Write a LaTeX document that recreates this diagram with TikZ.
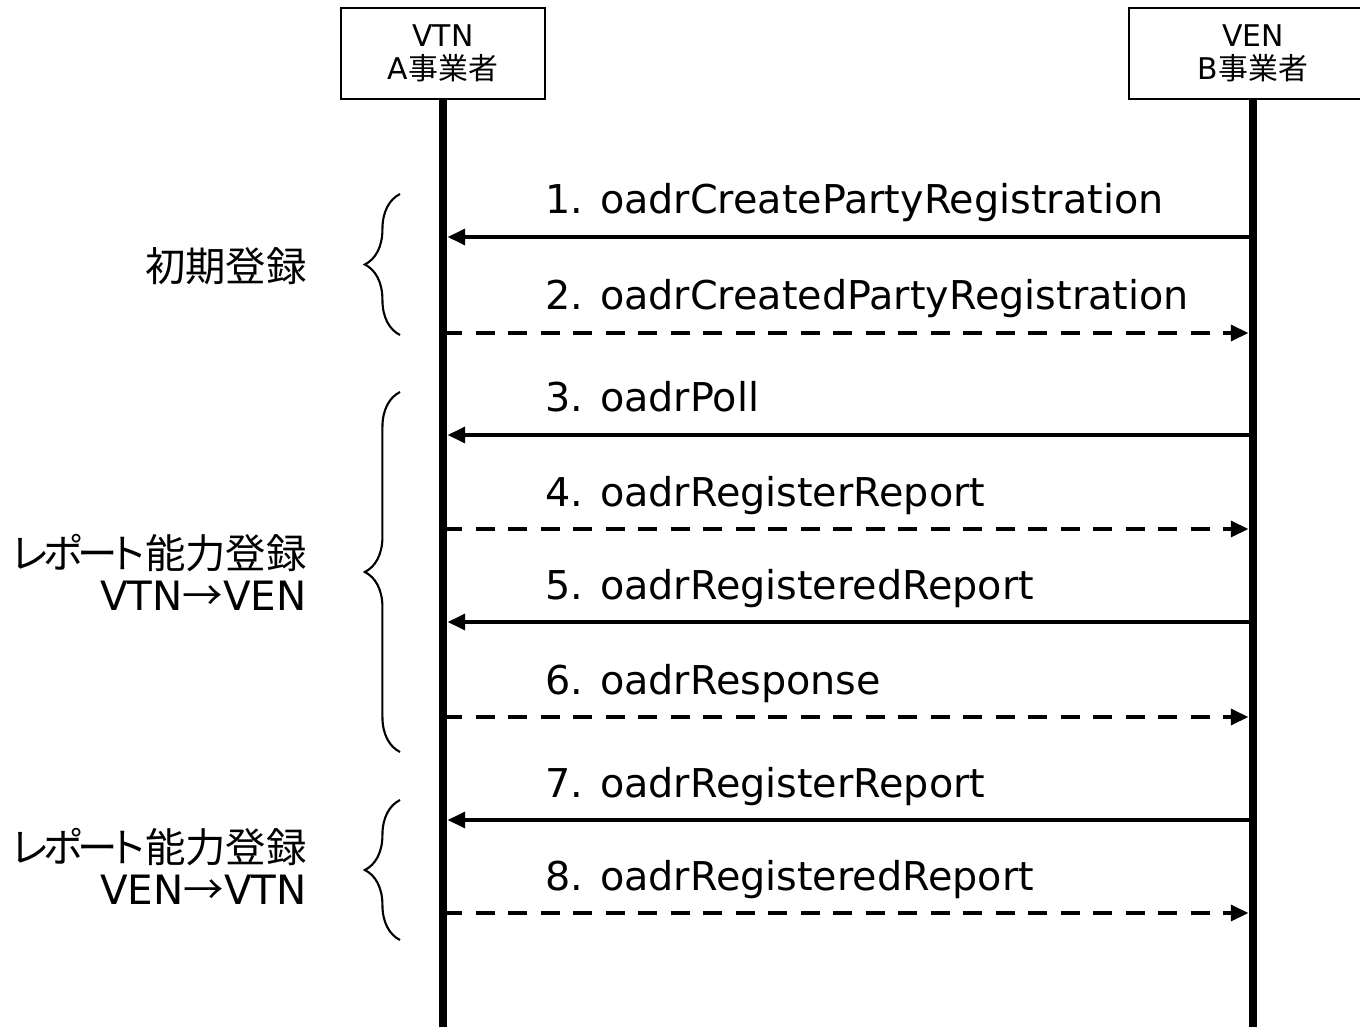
\documentclass[tikz,border=0pt]{standalone}
\usepackage{fontspec}
\setmainfont{DejaVu Sans}
\newfontfamily\jp{Noto Sans CJK JP}
\newfontfamily\jpp[RawFeature=+palt,LetterSpace=-10]{Noto Sans CJK JP}
\usetikzlibrary{arrows.meta,decorations.pathreplacing}
\tikzset{
  actor/.style={draw=black,line width=0.8pt,fill=white,minimum width=4.08cm,minimum height=1.82cm,align=center,inner sep=0pt,font=\fontsize{17}{19}\selectfont},
  lifeline/.style={line width=5pt},
  req/.style={line width=2.2pt,-{Triangle[length=10pt,width=9pt]},shorten >=2.6pt},
  resp/.style={req,dash pattern=on 11pt off 7.5pt},
  msglabel/.style={anchor=base west,inner sep=0pt,font=\fontsize{22.6}{24}\selectfont},
  grouplabel/.style={anchor=east,align=right,inner sep=0pt,font=\fontsize{23}{24}\selectfont},
  groupbrace/.style={line width=1.2pt,decorate,decoration={brace,amplitude=20pt}}
}
\newcommand{\reptitle}{{\jpp レポート}{\jp 能力登録}}
\begin{document}
\begin{tikzpicture}[x=0.02cm,y=-0.02cm]
\useasboundingbox (0,0) rectangle (1360,1027);
\def\xa{443};
\def\xb{1253};
\draw[lifeline] (\xa,99) coordinate (vtntop) -- (\xa,1027) coordinate (vtnend);
\draw[lifeline] (\xb,99) coordinate (ventop) -- (\xb,1027) coordinate (venend);
\node[actor] (vtn) at (443,53.5) {VTN\\A{\jp 事業者}};
\node[actor,minimum width=4.96cm] (ven) at (1253,53.5) {VEN\\B{\jp 事業者}};
\foreach \i/\y/\msg in {1/237/oadrCreatePartyRegistration,2/333/oadrCreatedPartyRegistration,
  3/435/oadrPoll,4/529/oadrRegisterReport,5/622/oadrRegisteredReport,
  6/717/oadrResponse,7/820/oadrRegisterReport,8/913/oadrRegisteredReport} {
  \coordinate (vtn\i) at (\xa,\y);
  \coordinate (ven\i) at (\xb,\y);
  \node[msglabel] (msg\i) at (545,\y-23) {\i. \msg};
  \ifodd\i
    \draw[req] (ven\i) -- (vtn\i);
  \else
    \draw[resp] (vtn\i) -- (ven\i);
  \fi
}
\foreach \g/\top/\bot in {a/194/335,b/392/752,c/800/940} {
  \draw[groupbrace] (400,\bot) coordinate (\g bot) -- (400,\top) coordinate (\g top);
}
\node[grouplabel] (init) at (307,266) {{\jp 初期登録}};
\node[grouplabel] (repa) at (307,572) {\reptitle\\VTN{\jp →}VEN};
\node[grouplabel] (repb) at (307,866) {\reptitle\\VEN{\jp →}VTN};
\end{tikzpicture}
\end{document}
